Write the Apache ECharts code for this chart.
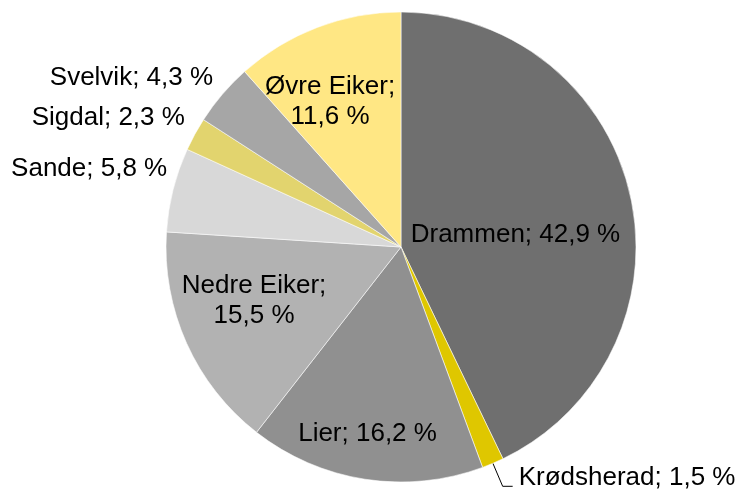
<!DOCTYPE html>
<html>
<head>
<meta charset="utf-8">
<script src="https://cdn.jsdelivr.net/npm/echarts@6/dist/echarts.min.js"></script>
<style>
  html, body { margin: 0; padding: 0; background: #fff; }
  #chart { width: 741px; height: 491px; }
</style>
</head>
<body>
<div id="chart"></div>
<script>
// Share per municipality (percent), clockwise from 12 o'clock
const municipalities = ['Drammen', 'Krødsherad', 'Lier', 'Nedre Eiker', 'Sande', 'Sigdal', 'Svelvik', 'Øvre Eiker'];
const shares = [42.9, 1.5, 16.2, 15.5, 5.8, 2.3, 4.3, 11.6];

// Slice fills
const sliceColors = ['#6f6f6f', '#dfc700', '#909090', '#b2b2b2', '#d8d8d8', '#e2d46e', '#a6a6a6', '#ffe784'];

// Labels that break after the semicolon
const wrapped = ['Nedre Eiker', 'Øvre Eiker'];

// Label nudges from the default anchor [dx, dy]
const labelShift = {
  'Drammen': [-3, 15],
  'Krødsherad': [2, -8],
  'Lier': [-15, 68],
  'Nedre Eiker': [-37, 4],
  'Øvre Eiker': [-28, -33],
  'Sande': [-195, -49],
  'Sigdal': [-187, -71],
  'Svelvik': [-178, -91]
};

function fmt(v) { return v.toFixed(1).replace('.', ','); }

const data = municipalities.map((name, i) => {
  const item = {
    name: name,
    value: shares[i],
    itemStyle: { color: sliceColors[i] }
  };
  if (name === 'Krødsherad') {
    item.label = { position: 'outside', distanceToLabelLine: 4 };
    item.labelLine = { show: true, length: 25, length2: 10, lineStyle: { color: '#000', width: 1 } };
  } else {
    item.label = { position: 'inside' };
    item.labelLine = { show: false };
  }
  return item;
});

const chart = echarts.init(document.getElementById('chart'), null, { renderer: 'canvas' });
chart.setOption({
  animation: false,
  backgroundColor: '#ffffff',
  series: [{
    type: 'pie',
    center: [401, 247],
    radius: 235,
    startAngle: 90,
    clockwise: true,
    avoidLabelOverlap: false,
    data: data,
    itemStyle: { borderColor: 'rgba(255,255,255,0.55)', borderWidth: 1 },
    label: {
      color: '#000',
      fontFamily: 'Liberation Sans, Arial, sans-serif',
      fontSize: 26,
      lineHeight: 30,
      align: 'center',
      formatter: function (p) {
        const sep = wrapped.indexOf(p.name) >= 0 ? ';\n' : '; ';
        return p.name + sep + fmt(p.value) + ' %';
      }
    },
    emphasis: { disabled: true },
    labelLayout: function (p) {
      const name = municipalities[p.dataIndex];
      const s = labelShift[name];
      if (!s) return {};
      const out = { dx: s[0], dy: s[1] };
      // keep the leader line where the pie put it; only the text moves
      if (p.labelLinePoints) out.labelLinePoints = p.labelLinePoints;
      return out;
    }
  }]
});
</script>
</body>
</html>
